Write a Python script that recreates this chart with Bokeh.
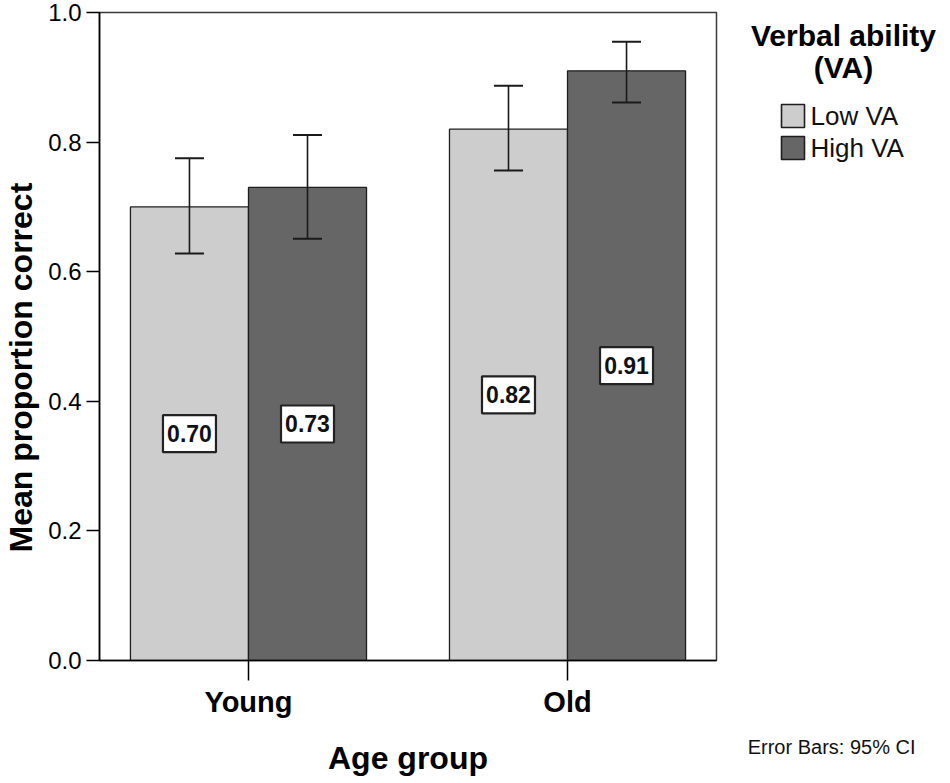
from bokeh.plotting import figure
from bokeh.layouts import row
from bokeh.models import (ColumnDataSource, FactorRange, Whisker, TeeHead, Range1d,
                          Label, FixedTicker)
from bokeh.core.properties import value
from bokeh.transform import dodge
from bokeh.embed import file_html
from bokeh.resources import INLINE

# ---- data ----
age_groups = ["Young", "Old"]
low_va_mean = [0.70, 0.82]
high_va_mean = [0.73, 0.91]
low_va_lower = [0.628, 0.756]
low_va_upper = [0.775, 0.887]
high_va_lower = [0.651, 0.861]
high_va_upper = [0.811, 0.955]
series_names = ["Low VA", "High VA"]
y_ticks = [0.0, 0.2, 0.4, 0.6, 0.8, 1.0]
legend_title = ["Verbal ability", "(VA)"]
note_text = "Error Bars: 95% CI"

FONT = "Liberation Sans"
LOW_COLOR = "#cdcdcd"
HIGH_COLOR = "#666666"
series_colors = [LOW_COLOR, HIGH_COLOR]
EDGE = "#1e1e1e"

low_src = ColumnDataSource(dict(
    age=age_groups, mean=low_va_mean, lower=low_va_lower, upper=low_va_upper,
    mid=[v / 2 for v in low_va_mean], txt=["%.2f" % v for v in low_va_mean]))
high_src = ColumnDataSource(dict(
    age=age_groups, mean=high_va_mean, lower=high_va_lower, upper=high_va_upper,
    mid=[v / 2 for v in high_va_mean], txt=["%.2f" % v for v in high_va_mean]))

p = figure(x_range=FactorRange(factors=age_groups, range_padding=-0.033),
           y_range=(0, 1.0),
           frame_width=617, frame_height=648,
           min_border_left=94, min_border_right=2, min_border_top=12, min_border_bottom=107,
           output_backend="svg", toolbar_location=None)

OFF = 0.185
W = 0.37
p.vbar(x=dodge("age", -OFF, range=p.x_range), top="mean", width=W, source=low_src,
       fill_color=LOW_COLOR, line_color=EDGE, line_width=1.3)
p.vbar(x=dodge("age", OFF, range=p.x_range), top="mean", width=W, source=high_src,
       fill_color=HIGH_COLOR, line_color=EDGE, line_width=1.3)

for src, off in ((low_src, -OFF), (high_src, OFF)):
    w = Whisker(base=dodge("age", off, range=p.x_range), upper="upper", lower="lower",
                source=src, line_color="#1a1a1a", line_width=1.6, level="annotation",
                upper_head=TeeHead(size=29, line_color="#1a1a1a", line_width=2),
                lower_head=TeeHead(size=29, line_color="#1a1a1a", line_width=2))
    p.add_layout(w)
    p.rect(x=dodge("age", off, range=p.x_range), y="mid", width=53, height=37,
           width_units="screen", height_units="screen", source=src,
           fill_color="white", line_color="#222222", line_width=2.2, level="overlay")
    p.text(x=dodge("age", off, range=p.x_range), y="mid", text="txt", source=src,
           text_font=value(FONT), text_font_style="bold", text_font_size="23px",
           text_align="center", text_baseline="middle", text_color="#111111",
           level="overlay")

# axes
p.xgrid.visible = False
p.ygrid.visible = False
p.outline_line_color = "#3a3a3a"
p.outline_line_width = 1.5

p.yaxis.ticker = FixedTicker(ticks=y_ticks)
p.yaxis.major_label_overrides = {t: "%.1f" % t for t in y_ticks}
p.yaxis.axis_label = "Mean proportion correct" + "\u00a0" * 7
p.xaxis.axis_label = "Age group"
for ax in (p.xaxis[0], p.yaxis[0]):
    ax.axis_line_color = "black"
    ax.axis_line_width = 1.6
    ax.major_tick_line_color = "black"
    ax.major_tick_line_width = 1.5
    ax.major_tick_in = 0
    ax.minor_tick_line_color = None
    ax.major_label_text_font = FONT
    ax.major_label_text_color = "black"
    ax.axis_label_text_font = FONT
    ax.axis_label_text_font_style = "bold"
    ax.axis_label_text_color = "black"
    ax.axis_label_text_font_size = "32px"
    ax.major_label_standoff = 5

p.yaxis.major_tick_out = 13
p.yaxis.major_label_text_font_size = "24px"
p.yaxis.axis_label_standoff = 6
p.xaxis.major_tick_out = 20
p.xaxis.major_label_text_font_size = "29px"
p.xaxis.major_label_text_font_style = "bold"
p.xaxis.axis_label_standoff = 19

# ---- right-hand panel: legend, its title, and the note ----
q = figure(x_range=Range1d(0, 221), y_range=Range1d(775, 0),
           frame_width=221, frame_height=775, min_border=0,
           x_axis_type=None, y_axis_type=None,
           output_backend="svg", toolbar_location=None)
q.outline_line_color = None
q.xgrid.visible = False
q.ygrid.visible = False

# legend rows (one per series), laid out in the panel's pixel-like coordinates
leg_src = ColumnDataSource(dict(
    name=series_names, color=series_colors,
    gx=[74.5] * len(series_names), tx=[92] * len(series_names),
    gy=[103.5 + 32 * i for i in range(len(series_names))]))
q.rect(x="gx", y="gy", width=23, height=23, source=leg_src,
       fill_color="color", line_color=EDGE, line_width=1.6)
q.text(x="tx", y="gy", text="name", source=leg_src,
       text_font=value(FONT), text_font_size="26px", text_color="#111111",
       text_align="left", text_baseline="middle")

for txt, y in zip(legend_title, (23, 55)):
    q.add_layout(Label(x=125, y=y, text=txt,
                       text_font=FONT, text_font_style="bold", text_font_size="30px",
                       text_align="center", text_baseline="middle", text_color="black"))

q.add_layout(Label(x=197, y=734, text=note_text, text_font=FONT, text_font_size="20px",
                   text_align="right", text_baseline="middle", text_color="#111111"))

layout = row(p, q, spacing=0)
open("out.html", "w").write(file_html(layout, INLINE))
